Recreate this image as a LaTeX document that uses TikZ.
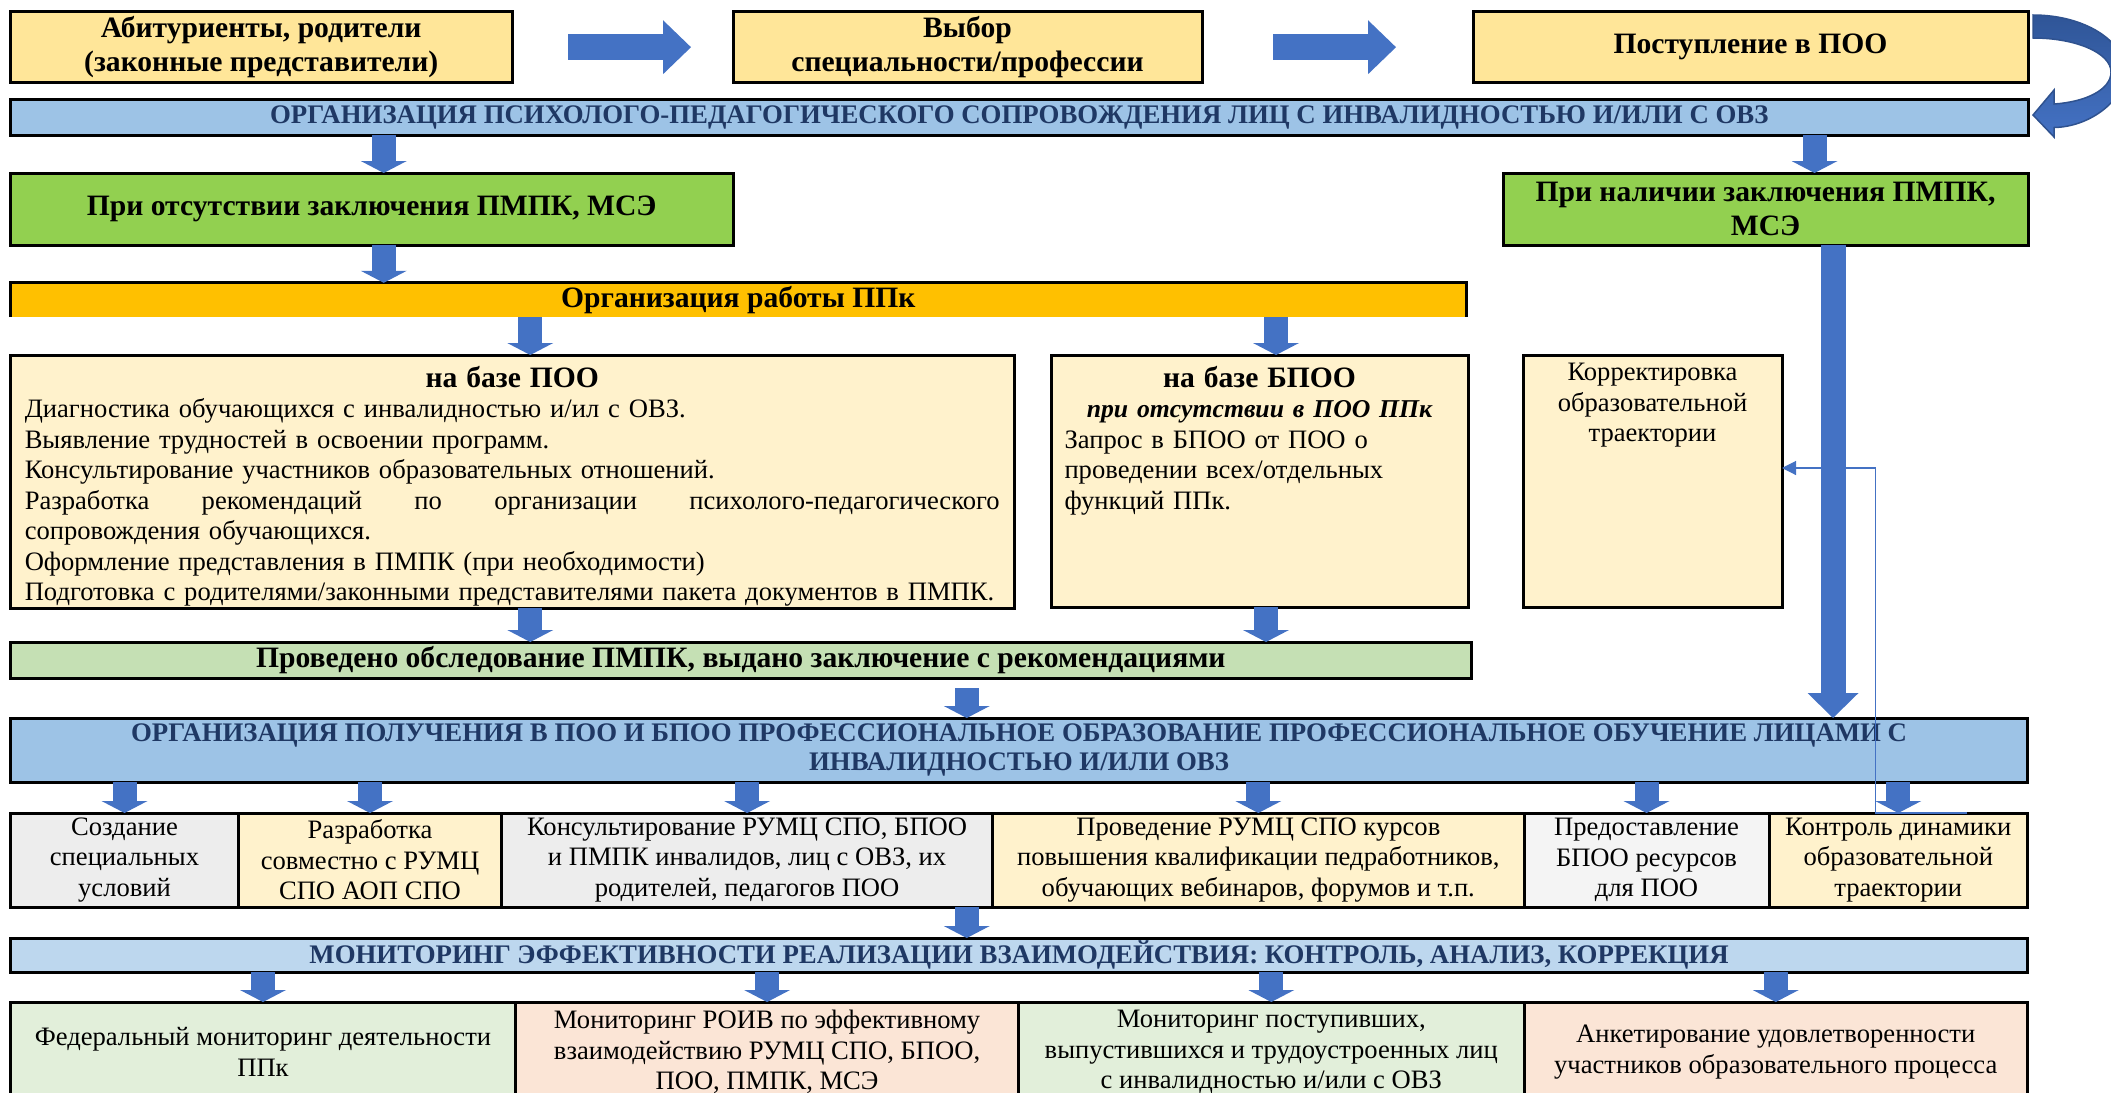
\documentclass[tikz,border=0pt]{standalone}
\usepackage{fontspec}
\setmainfont{Liberation Serif}
\usetikzlibrary{arrows.meta, calc, positioning}

\definecolor{topyellow}{HTML}{FFE699}
\definecolor{barblue}{HTML}{9DC3E6}
\definecolor{barlight}{HTML}{BDD7EE}
\definecolor{navy}{HTML}{1F3864}
\definecolor{grn}{HTML}{92D050}
\definecolor{orng}{HTML}{FFC000}
\definecolor{paleyel}{HTML}{FFF2CC}
\definecolor{palegrn}{HTML}{C5E0B4}
\definecolor{lightgrn}{HTML}{E2EFDA}
\definecolor{peach}{HTML}{FBE5D6}
\definecolor{gry}{HTML}{EDEDED}
\definecolor{arrblue}{HTML}{4472C4}
\definecolor{arrdark}{HTML}{2F528F}
\definecolor{arrdeep}{HTML}{2F5597}

\newcommand{\regtxt}{\fontsize{26.6}{30.5}\selectfont}
\newcommand{\ttltxt}{\fontsize{29.6}{34}\selectfont\bfseries}
\newcommand{\bartxt}{\fontsize{26.8}{28.5}\selectfont\bfseries}

\begin{document}
\begin{tikzpicture}[x=1pt, y=-1pt,
    box/.style={draw=black, line width=3pt, inner sep=0pt, outer sep=0pt, align=center},
    cell/.style={box, font=\regtxt},
    head/.style={box, font=\ttltxt},
    band/.style={box, font=\bartxt, text=navy},
    barr/.style={line width=24pt, draw=arrblue, -{Triangle[width=46pt, length=12pt, line width=0pt]}},
    bigarr/.style={line width=25pt, draw=arrblue, -{Triangle[width=51pt, length=25pt, line width=0pt]}},
    rarr/.style={line width=26pt, draw=arrblue, -{Triangle[width=54pt, length=28pt, line width=0pt]}},
    thinarr/.style={line width=1.2pt, draw=arrblue, -{Triangle[width=14pt, length=14pt]}}
  ]
  \useasboundingbox (0,0) rectangle (2111,1092);

  % top row
  \node[head, fill=topyellow, minimum width=501.5pt, minimum height=71pt] (abit) at (261.25,47.2) {Абитуриенты, родители\\(законные представители)};
  \node[head, fill=topyellow, minimum width=469pt, minimum height=71pt] (vybor) at (967.5,47.2) {Выбор\\специальности/профессии};
  \node[head, fill=topyellow, minimum width=555pt, minimum height=71pt] (postup) at (1750.5,47.2) {Поступление в ПОО};
  \draw[rarr] ([xshift=56pt]abit.east) -- ([xshift=-42pt]vybor.west);
  \draw[rarr] ([xshift=71pt]vybor.east) -- ([xshift=-77pt]postup.west);

  \node[band, fill=barblue, minimum width=2017.5pt, minimum height=36pt] (bar1) at (1019.25,117) {ОРГАНИЗАЦИЯ ПСИХОЛОГО-ПЕДАГОГИЧЕСКОГО СОПРОВОЖДЕНИЯ ЛИЦ С ИНВАЛИДНОСТЬЮ И/ИЛИ С ОВЗ};

  % curved arrow back to the band
  \begin{scope}[shift={(postup.north east)}]
    \path[draw=arrdark, line width=1.5pt, top color=arrdeep, bottom color=arrblue]
      (5,3.3) .. controls (56,3.3) and (97,28.8) .. (97,60.3)
      .. controls (97,88.3) and (62,115.3) .. (26,115.8)
      -- (26,125.3) -- (5,103.3) -- (26,78.3) -- (26,92.3)
      .. controls (57,90.3) and (83,78.3) .. (83,60.3)
      .. controls (83,41.3) and (48,26.3) .. (5,26.3) -- cycle;
  \end{scope}

  % two branches
  \node[head, fill=grn, minimum width=722.5pt, minimum height=72pt] (green1) at (371.75,209) {При отсутствии заключения ПМПК, МСЭ};
  \node[head, fill=grn, minimum width=525pt, minimum height=72pt] (green2) at (1765.5,209) {При наличии заключения ПМПК,\\МСЭ};

  \node[font=\ttltxt, fill=orng, inner sep=0pt, minimum width=1455.5pt, minimum height=34pt] (orange) at (738.25,300) {Организация работы ППк};
  \draw[line width=3pt] (orange.south west) |- (orange.north east) -- (orange.south east);

  \node[box, fill=paleyel, minimum width=1003.5pt, minimum height=253pt] (poo) at (512.25,481.5) {};
  \node[font=\regtxt, text width=975pt, align=left, inner sep=0pt, below=11pt of poo.north] (pootxt) {\makebox[975pt]{\ttltxt на базе ПОО}\\
    Диагностика обучающихся с инвалидностью и/ил с ОВЗ.\\
    Выявление трудностей в освоении программ.\\
    Консультирование участников образовательных отношений.\\
    \makebox[975pt]{Разработка\hfill рекомендаций\hfill по\hfill организации\hfill психолого-педагогического}\\
    сопровождения обучающихся.\\
    Оформление представления в ПМПК (при необходимости)\\
    Подготовка с родителями/законными представителями пакета документов в ПМПК.};

  \node[box, fill=paleyel, minimum width=417pt, minimum height=252pt] (bpoo) at (1259.5,481) {};
  \node[font=\regtxt, text width=390pt, align=left, inner sep=0pt, below=11pt of bpoo.north] (bpootxt) {\makebox[390pt]{\ttltxt на базе БПОО}\\
    \makebox[390pt]{\fontsize{25.7}{30.5}\selectfont\bfseries\itshape при отсутствии в ПОО ППк}\\
    Запрос в БПОО от ПОО о\\
    проведении всех/отдельных\\
    функций ППк.};

  \node[box, fill=paleyel, minimum width=259pt, minimum height=252pt] (korr) at (1652.5,481) {};
  \node[font=\regtxt, align=center, inner sep=0pt, below=8pt of korr.north] (korrtxt) {Корректировка\\образовательной\\траектории};

  \node[head, fill=palegrn, minimum width=1460.5pt, minimum height=36pt] (prov) at (740.75,660) {Проведено обследование ПМПК, выдано заключение с рекомендациями};

  \node[band, fill=barblue, minimum width=2017pt, minimum height=64pt] (bar2) at (1019,750) {ОРГАНИЗАЦИЯ ПОЛУЧЕНИЯ В ПОО И БПОО ПРОФЕССИОНАЛЬНОЕ ОБРАЗОВАНИЕ ПРОФЕССИОНАЛЬНОЕ ОБУЧЕНИЕ ЛИЦАМИ С\\ИНВАЛИДНОСТЬЮ И/ИЛИ ОВЗ};

  % row of measures
  \node[cell, fill=gry, minimum width=228pt, minimum height=94pt] (r1) at (124.5,860) {Создание\\специальных\\условий};
  \node[cell, fill=paleyel, minimum width=263pt, minimum height=94pt] (r2) at (370,860) {Разработка\\совместно с РУМЦ\\СПО АОП СПО};
  \node[cell, fill=gry, minimum width=491pt, minimum height=94pt] (r3) at (747.1,860) {Консультирование РУМЦ СПО, БПОО\\и ПМПК инвалидов, лиц с ОВЗ, их\\родителей, педагогов ПОО};
  \node[cell, fill=paleyel, minimum width=531.4pt, minimum height=94pt] (r4) at (1258.3,860) {Проведение РУМЦ СПО курсов\\повышения квалификации педработников,\\обучающих вебинаров, форумов и т.п.};
  \node[cell, fill=gry!60, minimum width=245pt, minimum height=94pt] (r5) at (1646.5,860) {Предоставление\\БПОО ресурсов\\для ПОО};
  \node[cell, fill=paleyel, minimum width=258.5pt, minimum height=94pt] (r6) at (1898.25,860) {Контроль динамики\\образовательной\\траектории};

  \node[band, fill=barlight, minimum width=2017pt, minimum height=34pt] (bar3) at (1019,955) {МОНИТОРИНГ ЭФФЕКТИВНОСТИ РЕАЛИЗАЦИИ ВЗАИМОДЕЙСТВИЯ: КОНТРОЛЬ, АНАЛИЗ, КОРРЕКЦИЯ};

  % monitoring
  \node[cell, fill=lightgrn, minimum width=505pt, minimum height=100pt] (b1) at (263,1052) {Федеральный мониторинг деятельности\\ППк};
  \node[cell, fill=peach, minimum width=503pt, minimum height=100pt] (b2) at (767.1,1052) {Мониторинг РОИВ по эффективному\\взаимодействию РУМЦ СПО, БПОО,\\ПОО, ПМПК, МСЭ};
  \node[cell, fill=lightgrn, minimum width=505.4pt, minimum height=100pt] (b3) at (1271.3,1052) {Мониторинг поступивших,\\выпустившихся и трудоустроенных лиц\\с инвалидностью и/или с ОВЗ};
  \node[cell, fill=peach, minimum width=503.5pt, minimum height=100pt] (b4) at (1775.75,1052) {Анкетирование удовлетворенности\\участников образовательного процесса};

  % arrows
  \coordinate (xa) at ([xshift=12pt]green1.north);
  \coordinate (xb) at ([xshift=18pt]poo.north);
  \coordinate (xc) at ([xshift=16.5pt]bpoo.north);
  \coordinate (xd) at ([xshift=6.5pt]bpoo.south);
  \coordinate (xe) at ([xshift=49pt]green2.north);
  \coordinate (xf) at ([xshift=226pt]prov.south);
  \coordinate (vline) at ([xshift=67.5pt]green2.south);

  \draw[barr] (bar1.south -| xa) -- (xa);
  \draw[barr] (green1.south -| xa) -- (orange.north -| xa);
  \draw[barr] (bar1.south -| xe) -- (xe);
  \draw[barr] (orange.south -| xb) -- (xb);
  \draw[barr] (orange.south -| xc) -- (xc);
  \draw[barr] (poo.south -| xb) -- (prov.north -| xb);
  \draw[barr] (xd) -- (prov.north -| xd);
  \draw[barr] ([yshift=-10pt]xf) -- (bar2.north -| xf);
  \foreach \c in {r1,r2,r3,r4,r5,r6}
    \draw[barr] (bar2.south -| \c.north) -- (\c.north);
  \draw[barr] (r3.south -| xf) -- (bar3.north -| xf);
  \foreach \c in {b1,b2,b3,b4}
    \draw[barr] (bar3.south -| \c.north) -- (\c.north);

  \draw[thinarr] ([xshift=69pt]r6.north) -- ([xshift=-23pt]r6.north) |- ([yshift=13pt]korr.east);
  \draw[bigarr] (vline) -- (vline |- bar2.north);

\end{tikzpicture}
\end{document}
